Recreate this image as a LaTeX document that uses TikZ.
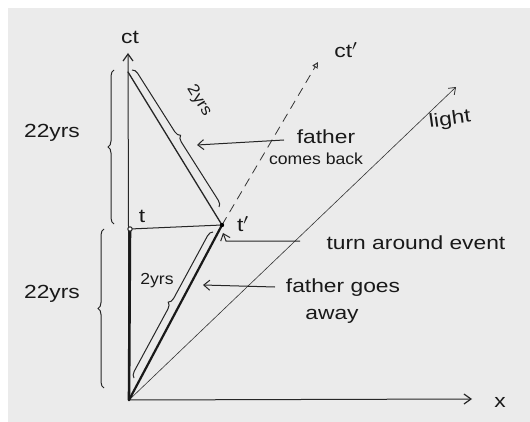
\documentclass[tikz,border=0pt]{standalone}
\usepackage{fontspec}
\setmainfont{Liberation Sans}
\usetikzlibrary{arrows.meta,decorations.pathreplacing}
\begin{document}
\begin{tikzpicture}[x=1pt,y=-1pt,
  pencil/.style={draw=black!85,line width=1pt,line cap=round},
  thickpen/.style={draw=black!90,line width=2.2pt,line cap=round},
  thinpen/.style={draw=black!80,line width=0.6pt},
  open/.style={-{Straight Barb[length=7pt,width=10pt,line width=1.2pt]}},
  hand/.style={font=\fontsize{19}{22}\selectfont,xscale=1.2,text=black!90,inner sep=0pt},
  smallhand/.style={font=\fontsize{16}{19}\selectfont,xscale=1.1,text=black!90,inner sep=0pt},
  bracestyle/.style={draw=black!85,line width=1pt,decorate,decoration={brace,amplitude=6pt}},
  ann/.style={draw=black!85,line width=1pt,-{Straight Barb[length=6pt,width=10pt,line width=1pt]}}]
\useasboundingbox (0,0) rectangle (530,422);
\fill[white] (0,0) rectangle (530,422);
\fill[black!8] (8,8) rectangle (530,422);

% key points
\coordinate (O) at (129,400);
\coordinate (ctend) at (128,53);
\coordinate (xend) at (472,399);
\coordinate (Tp) at (222,225);
\coordinate (t) at (130,229);
\coordinate (top) at (128,72);
\coordinate (ctpend) at (318,62);
\coordinate (lightend) at (456,87);

% axes
\draw[pencil,open] (O) -- (ctend);
\draw[pencil,open] (O) -- (xend);
\draw[thickpen,line width=2.6pt] (O) -- (t);
% light line
\draw[thinpen,-{Straight Barb[length=6pt,width=9pt,line width=0.8pt]}] (O) -- (lightend);
% ct' dashed axis
\draw[thinpen,line width=0.8pt,dash pattern=on 9pt off 6pt,-{Triangle[open,length=6pt,width=6pt,line width=1pt]}] (Tp) -- (ctpend);
% world lines
\draw[thickpen] (O) -- (Tp);
\draw[pencil,line width=1.3pt] (top) -- (Tp);
\draw[pencil] (t) -- (Tp);
\draw[black!85,line width=1pt,fill=white] (t) circle (2.2pt);
\fill[black] (Tp) circle (2.2pt);

% braces
\coordinate (ub1) at (114,224);
\coordinate (ub2) at (114,70);
\draw[bracestyle] (ub1) -- (ub2);
\coordinate (lb1) at (104,388);
\coordinate (lb2) at (104,229);
\draw[bracestyle] (lb1) -- (lb2);
\coordinate (rb1) at (132,70);
\coordinate (rb2) at (219,207);
\draw[bracestyle] (rb1) -- (rb2);
\coordinate (gb1) at (134,378);
\coordinate (gb2) at (213,232);
\draw[bracestyle] (gb1) -- (gb2);

% labels
\node[hand] (lct) at (130,37) {ct};
\node[hand] (lctp) at (346,50) {ct$'$};
\node[hand] (lx) at (500,402) {x};
\node[hand] (lt) at (142,216) {t};
\node[hand] (ltp) at (243,224) {t$'$};
\node[hand] (l22a) at (52,133) {22yrs};
\node[hand] (l22b) at (52,294) {22yrs};
\node[rotate=-58,smallhand] (l2a) at (199,101) {2yrs};
\node[smallhand] (l2b) at (157,281) {2yrs};
\node[rotate=8,hand] (llight) at (450,120) {light};
\node[hand] (lfather) at (326,137) {father};
\node[smallhand] (lcomes) at (316,159) {comes back};
\node[hand] (lturn) at (416,243) {turn around event};
\node[hand] (lgoes) at (343,288) {father goes};
\node[hand] (laway) at (332,316) {away};

% annotation arrows
\coordinate (a1s) at (284,140);
\coordinate (a1e) at (197,145);
\draw[ann] (a1s) -- (a1e);
\coordinate (a2s) at (300,241);
\coordinate (a2m) at (226,241);
\coordinate (a2e) at (223,233);
\draw[ann] (a2s) -- (a2m) -- (a2e);
\coordinate (a3s) at (275,287);
\coordinate (a3e) at (203,285);
\draw[ann] (a3s) -- (a3e);
\end{tikzpicture}
\end{document}
